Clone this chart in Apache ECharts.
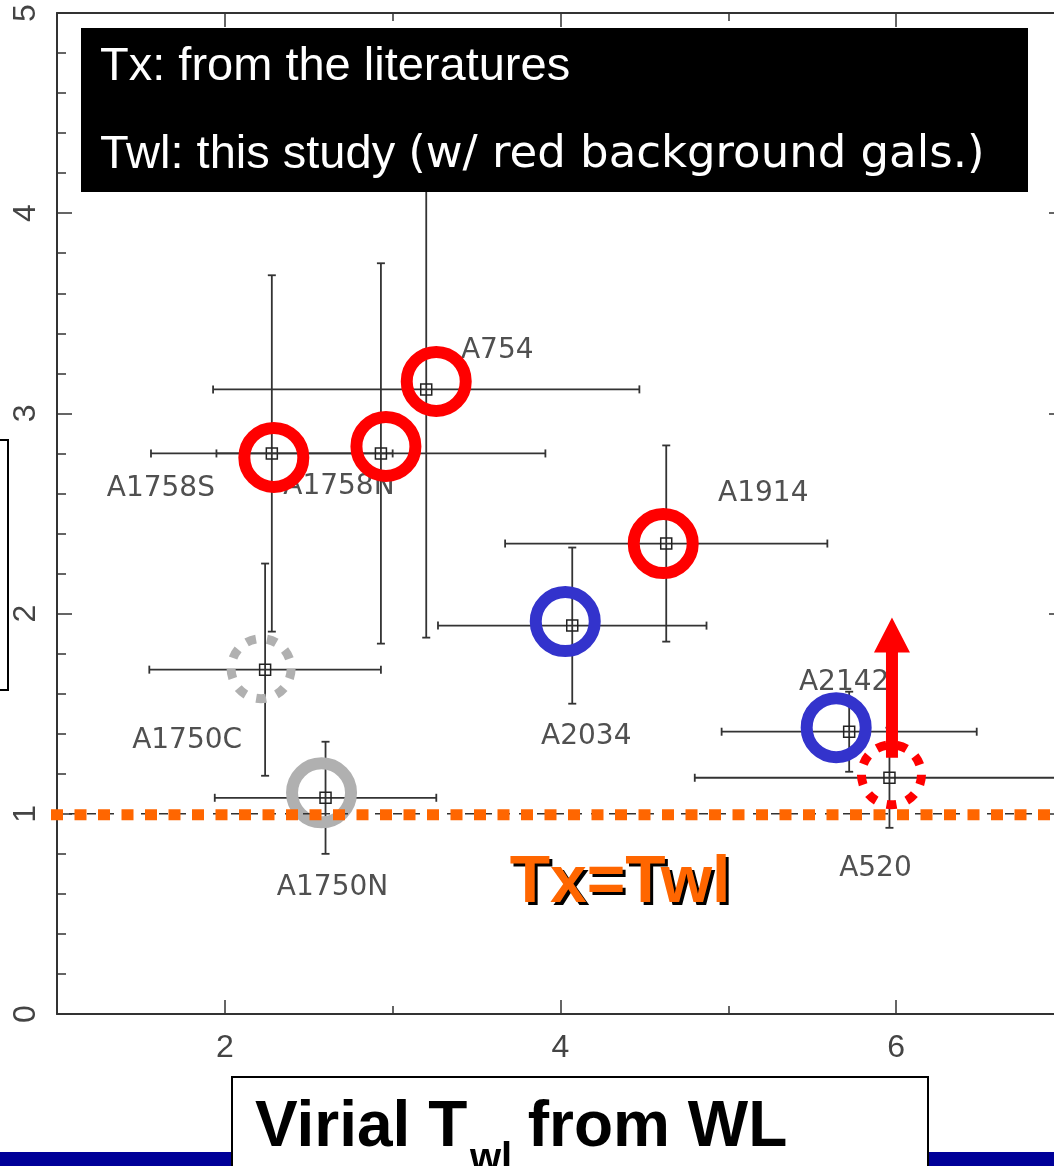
<!DOCTYPE html>
<html><head><meta charset="utf-8">
<script src="https://cdn.jsdelivr.net/npm/echarts@6/dist/echarts.min.js"></script>
<style>html,body{margin:0;padding:0;background:#fff;overflow:hidden}#c{width:1054px;height:1166px}</style>
</head><body><div id="c"></div><script>
// ---- data ----
const clusters = ['A1758S','A1758N','A754','A1914','A2034','A2142','A520','A1750C','A1750N'];
const twl      = [2.28, 2.93, 3.20, 4.63, 4.07, 5.72, 5.96, 2.24, 2.60];
const twlErr   = [0.72, 0.98, 1.27, 0.96, 0.80, 0.76, 1.16, 0.69, 0.66];
const ratio    = [2.80, 2.80, 3.12, 2.35, 1.94, 1.41, 1.18, 1.72, 1.08];
const ratioErr = [0.89, 0.95, 1.24, 0.49, 0.39, 0.20, 0.25, 0.53, 0.28];
const xMajorTicks = [2, 4, 6];
const xMinorTicks = [3, 5];
const equalityValue = 1;          // Tx = Twl
const a520LowerLimit = [5.975, 1.28, 1.98]; // x, arrow start, arrow tip

// ---- styling (not data) ----
const ringStyle = {
  A1758S:{color:'#ff0000',dash:false,dx:2,dy:4},
  A1758N:{color:'#ff0000',dash:false,dx:5,dy:-7},
  A754:  {color:'#ff0000',dash:false,dx:10,dy:-8},
  A1914: {color:'#ff0000',dash:false,dx:-3,dy:0},
  A2034: {color:'#3333cc',dash:false,dx:-7,dy:-4},
  A2142: {color:'#3333cc',dash:false,dx:-13,dy:-4},
  A520:  {color:'#ff0000',dash:true,dx:2,dy:-3},
  A1750C:{color:'#b0b0b0',dash:true,dx:-4,dy:-1},
  A1750N:{color:'#b0b0b0',dash:false,dx:-4,dy:-5}
};
const labelOffset = {
  A1758S:[-111,35], A1758N:[-42,33], A754:[71,-39], A1914:[97,-50],
  A2034:[14,111], A2142:[-5,-49], A520:[-14,91], A1750C:[-78,71], A1750N:[7,90]
};

const pts = clusters.map((n,i)=>[twl[i], ratio[i], twlErr[i], ratioErr[i]]);
const AX = '#333';
const tickFont = {color:'#444', fontSize:32, fontFamily:'Liberation Sans'};

function barItem(params, api){
  const x=api.value(0), y=api.value(1), ex=api.value(2), ey=api.value(3);
  const c=api.coord([x,y]), l=api.coord([x-ex,y]), r=api.coord([x+ex,y]);
  const t=api.coord([x,y+ey]), b=api.coord([x,y-ey]);
  const cap=4;
  const ln=(x1,y1,x2,y2)=>({type:'line',shape:{x1,y1,x2,y2},style:{stroke:'#333',lineWidth:1.8}});
  return {type:'group',children:[
    ln(l[0],c[1],r[0],c[1]), ln(l[0],c[1]-cap,l[0],c[1]+cap), ln(r[0],c[1]-cap,r[0],c[1]+cap),
    ln(c[0],t[1],c[0],b[1]), ln(c[0]-cap,t[1],c[0]+cap,t[1]), ln(c[0]-cap,b[1],c[0]+cap,b[1]),
    {type:'rect',shape:{x:c[0]-5.5,y:c[1]-5.5,width:11,height:11},style:{fill:'none',stroke:'#222',lineWidth:1.5}}
  ]};
}
function ringItem(params, api){
  const s = ringStyle[clusters[params.dataIndex]];
  const c = api.coord([api.value(0), api.value(1)]);
  return {type:'circle',shape:{cx:c[0]+s.dx, cy:c[1]+s.dy, r: s.dash?30:29.5},
    style:{fill:'none', stroke:s.color, lineWidth: s.dash?9:12, lineDash: s.dash?[10,11]:null}};
}
function labelItem(params, api){
  const n = clusters[params.dataIndex], o = labelOffset[n];
  const c = api.coord([api.value(0), api.value(1)]);
  return {type:'text', x:c[0]+o[0], y:c[1]+o[1],
    style:{text:n, fill:'#505050', font:'28px "DejaVu Sans"', align:'center', verticalAlign:'middle'}};
}
function eqItem(params, api){
  const cs = params.coordSys;
  const y = api.coord([1, api.value(1)])[1];
  return {type:'group',children:[
    {type:'line',shape:{x1:cs.x-6,y1:y,x2:cs.x+cs.width,y2:y},style:{stroke:'#333',lineWidth:1.5,lineDash:[9,9]}},
    {type:'line',shape:{x1:cs.x-6,y1:y+1,x2:cs.x+cs.width,y2:y+1},style:{stroke:'#ff6600',lineWidth:11,lineDash:[12,11.5]}}
  ]};
}
function arrowItem(params, api){
  const p0 = api.coord([api.value(0), api.value(1)]);
  const p1 = api.coord([api.value(0), api.value(2)]);
  const x = p0[0], hw=18, sw=6, hl=35;
  return {type:'polygon',shape:{points:[
    [x-sw,p0[1]],[x-sw,p1[1]+hl],[x-hw,p1[1]+hl],[x,p1[1]],[x+hw,p1[1]+hl],[x+sw,p1[1]+hl],[x+sw,p0[1]]
  ]},style:{fill:'#ff0000'}};
}

const xBase = {type:'value', min:1, max:7, gridIndex:0, splitLine:{show:false}};
const option = {
  backgroundColor:'#fff',
  animation:false,
  grid:{left:57, top:13, width:1007, height:1001, containLabel:false, outerBoundsMode:'none'},
  xAxis:[
    Object.assign({}, xBase, {position:'bottom',
      axisLine:{lineStyle:{color:AX,width:2}},
      axisTick:{inside:true,length:14,customValues:xMajorTicks,lineStyle:{color:AX,width:1.5}},
      axisLabel:Object.assign({customValues:xMajorTicks, margin:18}, tickFont)}),
    Object.assign({}, xBase, {position:'bottom', axisLine:{show:false},
      axisTick:{inside:true,length:8,customValues:xMinorTicks,lineStyle:{color:AX,width:1.5}},
      axisLabel:{show:false}}),
    Object.assign({}, xBase, {position:'top',
      axisLine:{lineStyle:{color:AX,width:2}},
      axisTick:{inside:true,length:14,customValues:xMajorTicks,lineStyle:{color:AX,width:1.5}},
      axisLabel:{show:false}}),
    Object.assign({}, xBase, {position:'top', axisLine:{show:false},
      axisTick:{inside:true,length:8,customValues:xMinorTicks,lineStyle:{color:AX,width:1.5}},
      axisLabel:{show:false}})
  ],
  yAxis:[
    {type:'value', min:0, max:5, interval:1, position:'left', splitLine:{show:false},
     axisLine:{lineStyle:{color:AX,width:2}},
     axisTick:{inside:true,length:15,lineStyle:{color:AX,width:1.5}},
     minorTick:{show:true,splitNumber:5,length:9,lineStyle:{color:AX,width:1.5}},
     axisLabel:Object.assign({rotate:90, margin:15}, tickFont)},
    {type:'value', min:0, max:5, interval:1, position:'right', splitLine:{show:false},
     axisLine:{lineStyle:{color:AX,width:2}},
     axisTick:{inside:true,length:15,lineStyle:{color:AX,width:1.5}},
     minorTick:{show:true,splitNumber:5,length:9,lineStyle:{color:AX,width:1.5}},
     axisLabel:{show:false}}
  ],
  series:[
    {type:'custom', name:'bars', renderItem:barItem, data:pts, encode:{x:0,y:1}, clip:false, z:2},
    {type:'custom', name:'labels', renderItem:labelItem, data:pts, encode:{x:0,y:1}, clip:false, z:3},
    {type:'custom', name:'rings', renderItem:ringItem, data:pts, encode:{x:0,y:1}, clip:false, z:4},
    {type:'custom', name:'equality', renderItem:eqItem, data:[[1, equalityValue]], encode:{x:0,y:1}, clip:false, z:5},
    {type:'custom', name:'limit', renderItem:arrowItem, data:[a520LowerLimit], encode:{x:0,y:[1,2]}, clip:false, z:6}
  ],
  graphic:[
    {type:'rect', z:50, shape:{x:-20,y:440,width:28,height:250}, style:{fill:'none',stroke:'#000',lineWidth:2}},
    {type:'rect', z:100, shape:{x:81,y:28,width:947,height:164}, style:{fill:'#000'}},
    {type:'text', z:101, x:100, y:67, style:{text:'Tx: from the literatures', fill:'#fff',
      font:'47px "Liberation Sans"', verticalAlign:'middle'}},
    {type:'text', z:101, x:100, y:155, style:{text:'{a|Twl: this study }{b|(w/ red background gals.)}', fill:'#fff',
      verticalAlign:'middle',
      rich:{a:{fontSize:47,fontFamily:'Liberation Sans',fill:'#fff'}, b:{fontSize:45,fontFamily:'DejaVu Sans',fill:'#fff'}}}},
    {type:'text', z:101, x:623, y:887, style:{text:'Tx=Twl', fill:'#000',
      font:'bold 66px "Liberation Sans"', align:'center', verticalAlign:'middle'}},
    {type:'text', z:102, x:620, y:884, style:{text:'Tx=Twl', fill:'#ff6600',
      font:'bold 66px "Liberation Sans"', align:'center', verticalAlign:'middle'}},
    {type:'rect', z:100, shape:{x:0,y:1152,width:1054,height:20}, style:{fill:'#000099'}},
    {type:'rect', z:101, shape:{x:232,y:1077,width:696,height:120}, style:{fill:'#fff',stroke:'#000',lineWidth:2}},
    {type:'text', z:102, x:255, y:1128, style:{text:'Virial T', fill:'#000',
      font:'bold 64px "Liberation Sans"', verticalAlign:'middle'}},
    {type:'text', z:102, x:470, y:1160, style:{text:'wl', fill:'#000',
      font:'bold 40px "Liberation Sans"', verticalAlign:'middle'}},
    {type:'text', z:102, x:510, y:1128, style:{text:' from WL', fill:'#000',
      font:'bold 64px "Liberation Sans"', verticalAlign:'middle'}}
  ]
};
const chart = echarts.init(document.getElementById('c'), null, {renderer:'canvas'});
chart.setOption(option);
</script></body></html>
